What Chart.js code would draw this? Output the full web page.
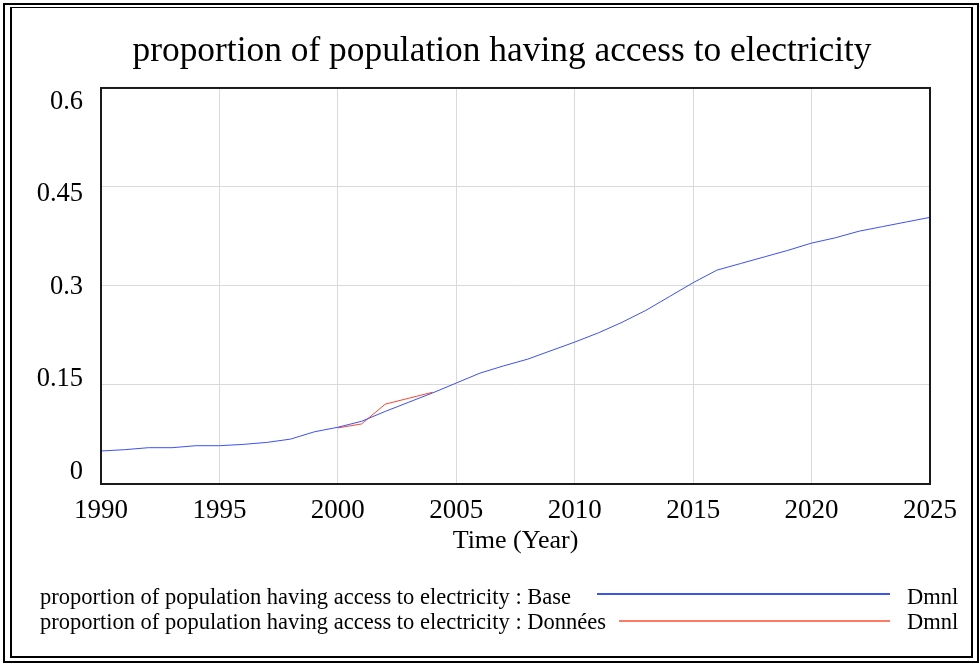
<!DOCTYPE html>
<html>
<head>
<meta charset="utf-8">
<title>proportion of population having access to electricity</title>
<script src="https://cdn.jsdelivr.net/npm/chart.js@4/dist/chart.umd.min.js"></script>
<style>
  html, body { margin: 0; padding: 0; background: #fff; }
  #wrap { position: relative; width: 980px; height: 664px; overflow: hidden; background: #fff; }
  #chart { position: absolute; left: 0; top: 0; }
  .box { position: absolute; box-sizing: border-box; border-style: solid; border-color: #000; }
  #outer { left: 3px; top: 3px; width: 976px; height: 660px; border-width: 2px; }
  #inner { left: 10px; top: 7px; width: 963px; height: 651px; border-width: 1px 2px 2px 2px; }
  .lg { position: absolute; font-family: 'Liberation Serif', 'Times New Roman', serif;
        font-size: 22.5px; line-height: 26px; color: #000; white-space: nowrap; }
  .rule { position: absolute; height: 2px; }
</style>
</head>
<body>
<div id="wrap">
  <div id="outer" class="box"></div>
  <div id="inner" class="box"></div>
  <canvas id="chart" width="980" height="664"></canvas>

  <div class="lg" style="left:40px; top:584px;">proportion of population having access to electricity : Base</div>
  <div class="rule" style="left:597px; top:593px; width:293px; background:#3d55f0;"></div>
  <div class="lg" style="left:907px; top:584px;">Dmnl</div>

  <div class="lg" style="left:40px; top:609px;">proportion of population having access to electricity : Données</div>
  <div class="rule" style="left:619px; top:620px; width:271px; background:#ff7a66;"></div>
  <div class="lg" style="left:907px; top:609px;">Dmnl</div>
</div>

<script>
// Simulation years and the "Base" run
const years = [
  1990, 1991, 1992, 1993, 1994, 1995, 1996, 1997, 1998, 1999,
  2000, 2001, 2002, 2003, 2004, 2005, 2006, 2007, 2008, 2009,
  2010, 2011, 2012, 2013, 2014, 2015, 2016, 2017, 2018, 2019,
  2020, 2021, 2022, 2023, 2024, 2025
];
const baseValues = [
  0.050, 0.052, 0.055, 0.055, 0.058, 0.058, 0.060, 0.063, 0.068, 0.079,
  0.086, 0.095, 0.110, 0.124, 0.138, 0.153, 0.168, 0.179, 0.189, 0.202,
  0.215, 0.229, 0.245, 0.263, 0.284, 0.305, 0.324, 0.334, 0.344, 0.354,
  0.365, 0.373, 0.383, 0.390, 0.397, 0.404
];

// Observed data ("Données")
const dataYears = [2000, 2001, 2002, 2003, 2004];
const dataValues = [0.085, 0.091, 0.121, 0.130, 0.139];

// Axis ticks
const yTicks = [0, 0.15, 0.3, 0.45, 0.6];
const xTicks = [1990, 1995, 2000, 2005, 2010, 2015, 2020, 2025];

const serif = "'Liberation Serif', 'Times New Roman', serif";

const toPoints = (xs, ys) => xs.map((x, i) => ({ x: x, y: ys[i] }));

// Black frame round the plotting area
const plotFrame = {
  id: 'plotFrame',
  afterDatasetsDraw(chart) {
    const { ctx, chartArea: { left, top, right, bottom } } = chart;
    ctx.save();
    ctx.strokeStyle = '#1a1a1a';
    ctx.lineWidth = 2;
    ctx.strokeRect(left, top, right - left, bottom - top);
    ctx.restore();
  }
};

new Chart(document.getElementById('chart'), {
  type: 'line',
  data: {
    datasets: [
      {
        label: 'proportion of population having access to electricity : Base',
        data: toPoints(years, baseValues),
        borderColor: 'rgb(60, 80, 255)',
        borderWidth: 1,
        pointRadius: 0,
        tension: 0,
        fill: false,
        yAxisID: 'y'
      },
      {
        label: 'proportion of population having access to electricity : Données',
        data: toPoints(dataYears, dataValues),
        borderColor: 'rgb(255, 70, 50)',
        borderWidth: 1,
        pointRadius: 0,
        tension: 0,
        fill: false,
        yAxisID: 'y'
      }
    ]
  },
  options: {
    responsive: false,
    animation: false,
    layout: { padding: { left: 28, right: 4, top: 0, bottom: 107 } },
    plugins: {
      legend: { display: false },
      tooltip: { enabled: false },
      title: {
        display: true,
        text: 'proportion of population having access to electricity',
        color: '#000',
        font: { family: serif, size: 35.4, weight: 'normal', lineHeight: 1.2 },
        padding: { top: 30, bottom: 15.5 }
      }
    },
    scales: {
      x: {
        type: 'linear',
        min: 1990,
        max: 2025,
        afterBuildTicks: (s) => { s.ticks = xTicks.map(v => ({ value: v })); },
        afterFit: (s) => { s.height = 73; s.paddingLeft = 0; s.paddingRight = 0; },
        border: { display: false },
        grid: { color: '#d9d9d9', lineWidth: 1, drawTicks: false },
        ticks: {
          color: '#000',
          padding: 11,
          maxRotation: 0,
          autoSkip: false,
          font: { family: serif, size: 27 },
          callback: (v) => String(v)
        },
        title: {
          display: true,
          text: 'Time (Year)',
          color: '#000',
          font: { family: serif, size: 26 },
          padding: { top: 0, bottom: 0 }
        }
      },
      // value axis: gridlines only
      y: {
        type: 'linear',
        position: 'left',
        min: 0,
        max: 0.6,
        afterBuildTicks: (s) => { s.ticks = yTicks.map(v => ({ value: v })); },
        afterFit: (s) => { s.width = 0; },
        border: { display: false },
        grid: { color: '#d9d9d9', lineWidth: 1, drawTicks: false },
        ticks: { display: false }
      },
      // label axis: tick text spread the way the simulation tool lays it out
      yl: {
        type: 'linear',
        position: 'left',
        min: -0.0195,
        max: 0.6227,
        afterBuildTicks: (s) => { s.ticks = yTicks.map(v => ({ value: v })); },
        afterFit: (s) => { s.width = 73; },
        border: { display: false },
        grid: { display: false, drawTicks: false },
        ticks: {
          color: '#000',
          padding: 18,
          font: { family: serif, size: 26.5 },
          callback: (v) => String(v)
        }
      },
      // empty margin on the right of the plot
      yr: {
        type: 'linear',
        position: 'right',
        min: 0,
        max: 0.6,
        afterFit: (s) => { s.width = 46; },
        border: { display: false },
        grid: { display: false, drawTicks: false },
        ticks: { display: false }
      }
    }
  },
  plugins: [plotFrame]
});
</script>
</body>
</html>
